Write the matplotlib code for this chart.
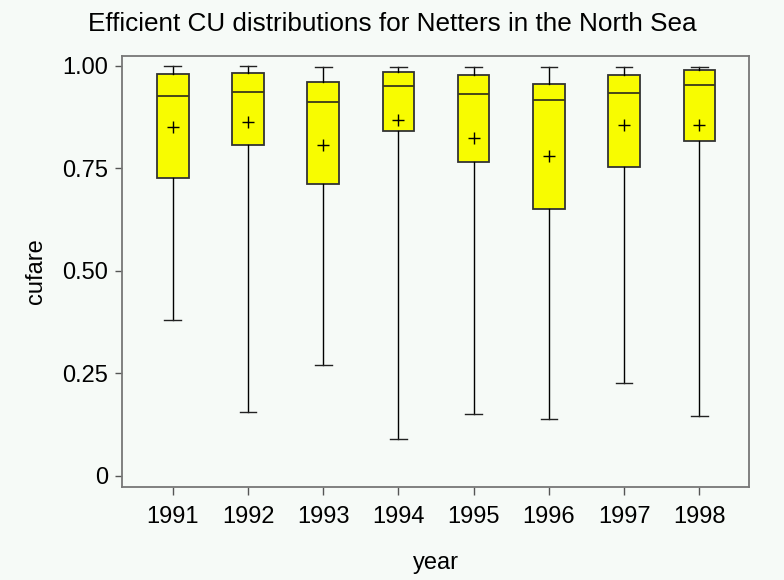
import matplotlib
matplotlib.use("Agg")
import matplotlib.pyplot as plt

plt.rcParams['font.family'] = ['Liberation Sans', 'DejaVu Sans']

years = ['1991', '1992', '1993', '1994', '1995', '1996', '1997', '1998']
whisker_low = [0.380, 0.154, 0.269, 0.089, 0.151, 0.139, 0.226, 0.145]
q1 = [0.727, 0.806, 0.712, 0.840, 0.764, 0.650, 0.753, 0.816]
median = [0.925, 0.937, 0.911, 0.950, 0.931, 0.916, 0.933, 0.953]
q3 = [0.979, 0.983, 0.959, 0.984, 0.977, 0.955, 0.977, 0.989]
whisker_high = [1.000, 1.000, 0.998, 0.996, 0.998, 0.996, 0.998, 0.998]
mean = [0.851, 0.863, 0.806, 0.868, 0.824, 0.780, 0.856, 0.856]

bg = '#f6faf7'

stats = []
for i in range(len(years)):
    stats.append({'label': years[i], 'whislo': whisker_low[i], 'q1': q1[i],
                  'med': median[i], 'q3': q3[i], 'whishi': whisker_high[i],
                  'mean': mean[i], 'fliers': []})

fig = plt.figure(figsize=(7.84, 5.8), dpi=100, facecolor=bg)
ax = fig.add_axes([0.1556, 0.1609, 0.7998, 0.7431], facecolor=bg)

ax.bxp(stats, positions=range(1, 9), widths=0.42, patch_artist=True,
       showmeans=True, showfliers=False,
       boxprops=dict(facecolor='#f8fc00', edgecolor='#333333', linewidth=1.3),
       medianprops=dict(color='#3a3a1a', linewidth=1.3),
       whiskerprops=dict(color='black', linewidth=1.0),
       capprops=dict(color='#222222', linewidth=1.0),
       capwidths=0.22,
       meanprops=dict(marker='+', markeredgecolor='black', markersize=8,
                      markeredgewidth=1.0))

ax.set_xlim(0.325, 8.66)
ax.set_ylim(-0.027, 1.0244)
ax.set_yticks([0, 0.25, 0.5, 0.75, 1.0])
ax.set_yticklabels(['0', '0.25', '0.50', '0.75', '1.00'])
ax.tick_params(axis='both', direction='out', width=1.0, color='#555555',
               labelsize=17)
ax.tick_params(axis='x', length=6, pad=8)
ax.tick_params(axis='y', length=5, pad=5)
for s in ax.spines.values():
    s.set_color('#777777')
    s.set_linewidth(1.3)

ax.set_xlabel('year', fontsize=17)
ax.set_ylabel('cufare', fontsize=17)
ax.xaxis.set_label_coords(0.5, -0.177)
ax.xaxis.label.set_va('center')
ax.yaxis.set_label_coords(-0.137, 0.5)
ax.yaxis.label.set_va('center')
fig.text(0.5, 0.9586, 'Efficient CU distributions for Netters in the North Sea',
         fontsize=18.8, ha='center', va='center')

fig.savefig('out.png', dpi=100, facecolor=bg)
